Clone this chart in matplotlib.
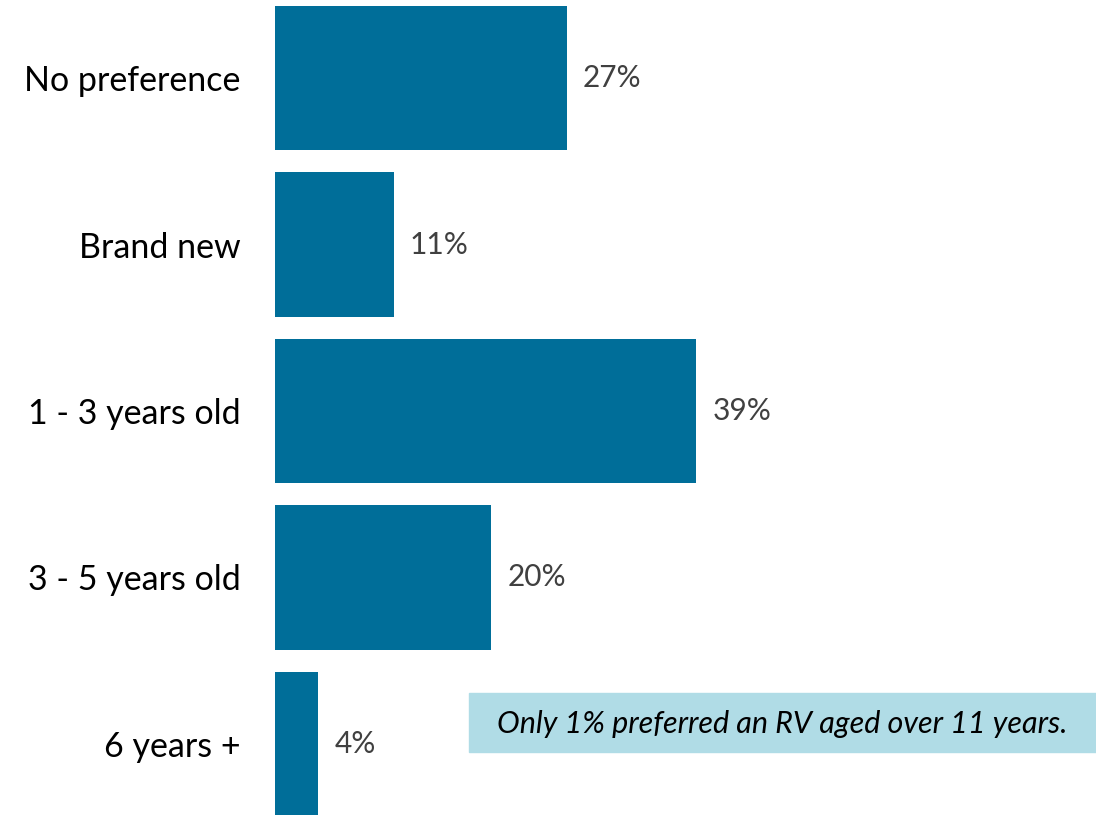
import matplotlib.pyplot as plt

categories = ['No preference', 'Brand new', '1 - 3 years old', '3 - 5 years old', '6 years +']
shares = [27, 11, 39, 20, 4]
note = 'Only 1% preferred an RV aged over 11 years.'

plt.rcParams['font.family'] = ['Lato', 'DejaVu Sans']

fig = plt.figure(figsize=(10.96, 8.15), dpi=100)
ax = fig.add_axes([275 / 1096, -1 / 815, 1 - 275 / 1096, 810 / 815])

pos = range(len(categories))
bars = ax.barh(pos, shares, height=0.867, color='#006E99')
ax.set_xlim(0, 821 / 10.8)
ax.set_ylim(len(categories) - 1 + 0.4335, -0.4335)

for b, v in zip(bars, shares):
    ax.text(v + 1.5, b.get_y() + b.get_height() / 2, f'{v}%',
            va='center', ha='left', fontsize=21.5, color='#404040')

ax.set_yticks(list(pos))
ax.set_yticklabels(categories, fontsize=24.5, color='black')
ax.tick_params(axis='y', length=0, pad=25)
ax.set_xticks([])
for s in ax.spines.values():
    s.set_visible(False)

# note box in the lower right
fig.patches.append(plt.Rectangle((469 / 1096, (815 - 752) / 815), 627 / 1096, 59 / 815,
                                 transform=fig.transFigure, color='#B0DCE6', zorder=0))
fig.text(782 / 1096, (815 - 724) / 815, note, ha='center', va='center',
         fontsize=22, style='italic', color='black')

fig.savefig('out.png', dpi=100)
